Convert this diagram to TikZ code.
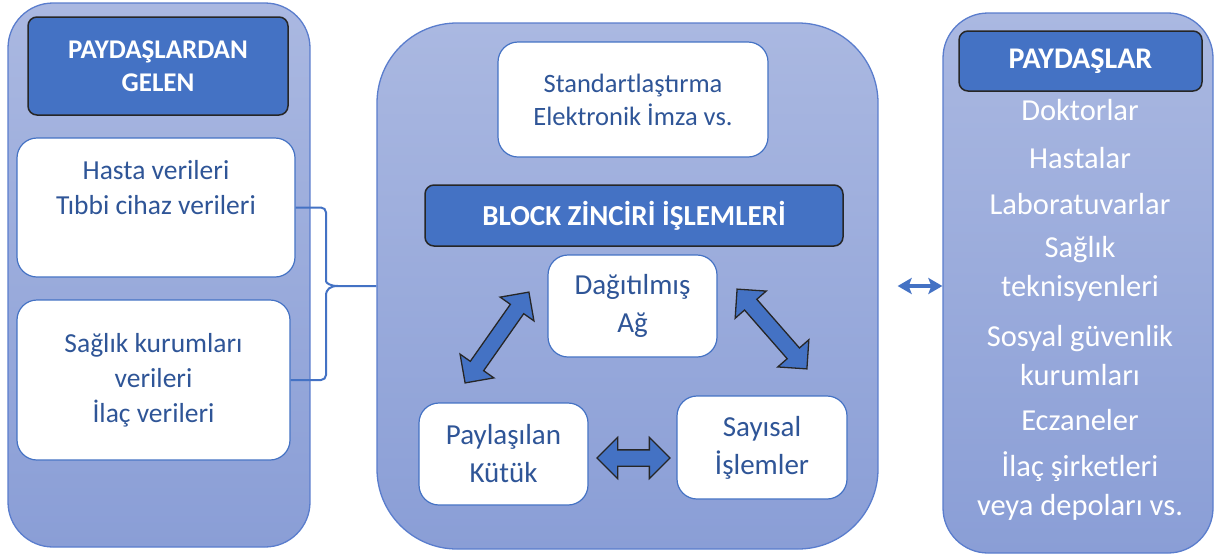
\documentclass[tikz,border=0pt]{standalone}
\usepackage{fontspec}
\setmainfont{Carlito}
\usetikzlibrary{shapes.arrows,arrows.meta}
\definecolor{accent}{HTML}{4472C4}
\definecolor{txt}{HTML}{2F5597}
\definecolor{ptop}{RGB}{170,184,225}
\definecolor{pbot}{RGB}{138,158,214}
\definecolor{pline}{RGB}{90,125,205}
\begin{document}
\begin{tikzpicture}[x=1pt,y=-1pt,
  panel/.style={draw=pline, line width=1.3pt, top color=ptop, bottom color=pbot, inner sep=0pt},
  titlebox/.style={draw=black!85, line width=1.5pt, fill=accent, rounded corners=9pt, text=white, align=center, inner sep=0pt},
  wbox/.style={draw=accent, line width=1.2pt, fill=white, rounded corners=20pt, inner sep=0pt, text=txt, align=center},
  wtext/.style={text=txt, align=center, inner sep=0pt},
  ptext/.style={text=white, align=center, inner sep=0pt, font=\fontsize{30.5}{39}\selectfont},
  fat/.style={double arrow, draw=black!85, line width=1.3pt, fill=accent, inner sep=7.5pt, minimum width=40pt, double arrow head extend=12.5pt, double arrow tip angle=90},
  brace/.style={draw=accent, line width=2pt, rounded corners=5pt},
  link/.style={draw=accent, line width=4pt, {Stealth[length=14pt,width=16pt,inset=3pt]}-{Stealth[length=14pt,width=16pt,inset=3pt]}}]
\useasboundingbox (0,0) rectangle (1214,555);

% panels
\node[panel, rounded corners=45pt, minimum width=302pt, minimum height=544pt] (lp) at (159,275) {};
\node[panel, rounded corners=80pt, minimum width=501pt, minimum height=526pt] (cp) at (627.5,286) {};
\node[panel, rounded corners=45pt, minimum width=270pt, minimum height=540pt] (rp) at (1078,283) {};

% left panel
\node[titlebox, minimum width=260pt, minimum height=98pt, font=\bfseries\fontsize{27}{33}\selectfont] (lt) at (158,66) {PAYDAŞLARDAN\\GELEN};
\node[wbox, minimum width=278pt, minimum height=139pt] (b1) at (156,207.5) {};
\node[wtext, font=\fontsize{27.5}{35}\selectfont] (b1t) at (156,188) {Hasta verileri\\Tıbbi cihaz verileri};
\node[wbox, minimum width=273pt, minimum height=160pt, font=\fontsize{27.5}{35}\selectfont] (b2) at (153.5,380) {Sağlık kurumları\\verileri\\İlaç verileri};

% center panel
\node[wbox, minimum width=270pt, minimum height=115pt, font=\fontsize{26.5}{33}\selectfont] (std) at (633,99.5) {Standartlaştırma\\Elektronik İmza vs.};
\node[titlebox, minimum width=418pt, minimum height=61pt, font=\bfseries\fontsize{29}{33}\selectfont] (bt) at (634,215.5) {BLOCK ZİNCİRİ İŞLEMLERİ};
\node[wbox, minimum width=169pt, minimum height=102pt, font=\fontsize{29}{38}\selectfont] (dag) at (632.5,306) {Dağıtılmış\\Ağ};
\node[wbox, minimum width=169pt, minimum height=102pt, font=\fontsize{29}{38}\selectfont] (pay) at (503.5,454) {Paylaşılan\\Kütük};
\node[wbox, minimum width=170pt, minimum height=103pt, font=\fontsize{29}{38}\selectfont] (say) at (762,447.5) {Sayısal\\İşlemler};

\node[fat, minimum height=111pt, rotate=54.9] (a1) at (497,337.5) {};
\node[fat, minimum height=106pt, rotate=-48.8] (a2) at (772,329) {};
\node[fat, minimum height=73pt] (a3) at (633.5,458) {};

% right panel
\node[titlebox, minimum width=243pt, minimum height=60pt, font=\bfseries\fontsize{30}{33}\selectfont] (rt) at (1080.5,61) {PAYDAŞLAR};
\node[ptext] (r1) at (1080,110) {Doktorlar};
\node[ptext] (r2) at (1080,158) {Hastalar};
\node[ptext] (r3) at (1080,204) {Laboratuvarlar};
\node[ptext] (r4) at (1080,269) {Sağlık\\teknisyenleri};
\node[ptext] (r5) at (1080,356) {Sosyal güvenlik\\kurumları};
\node[ptext] (r6) at (1080,420) {Eczaneler};
\node[ptext] (r7) at (1080,486) {İlaç şirketleri\\veya depoları vs.};

% connectors
\draw[brace] (b1.east) -- (326,207.5) -- (326,276) [rounded corners=0pt] .. controls (326,283) and (330,286) .. (338,286) -- (cp.west) -- (338,286) .. controls (330,286) and (326,289) .. (326,296) [rounded corners=5pt] -- (326,380) -- (b2.east);
\draw[link, shorten <=19pt] (cp.east) -- (rp.west |- cp.east);
\end{tikzpicture}
\end{document}
